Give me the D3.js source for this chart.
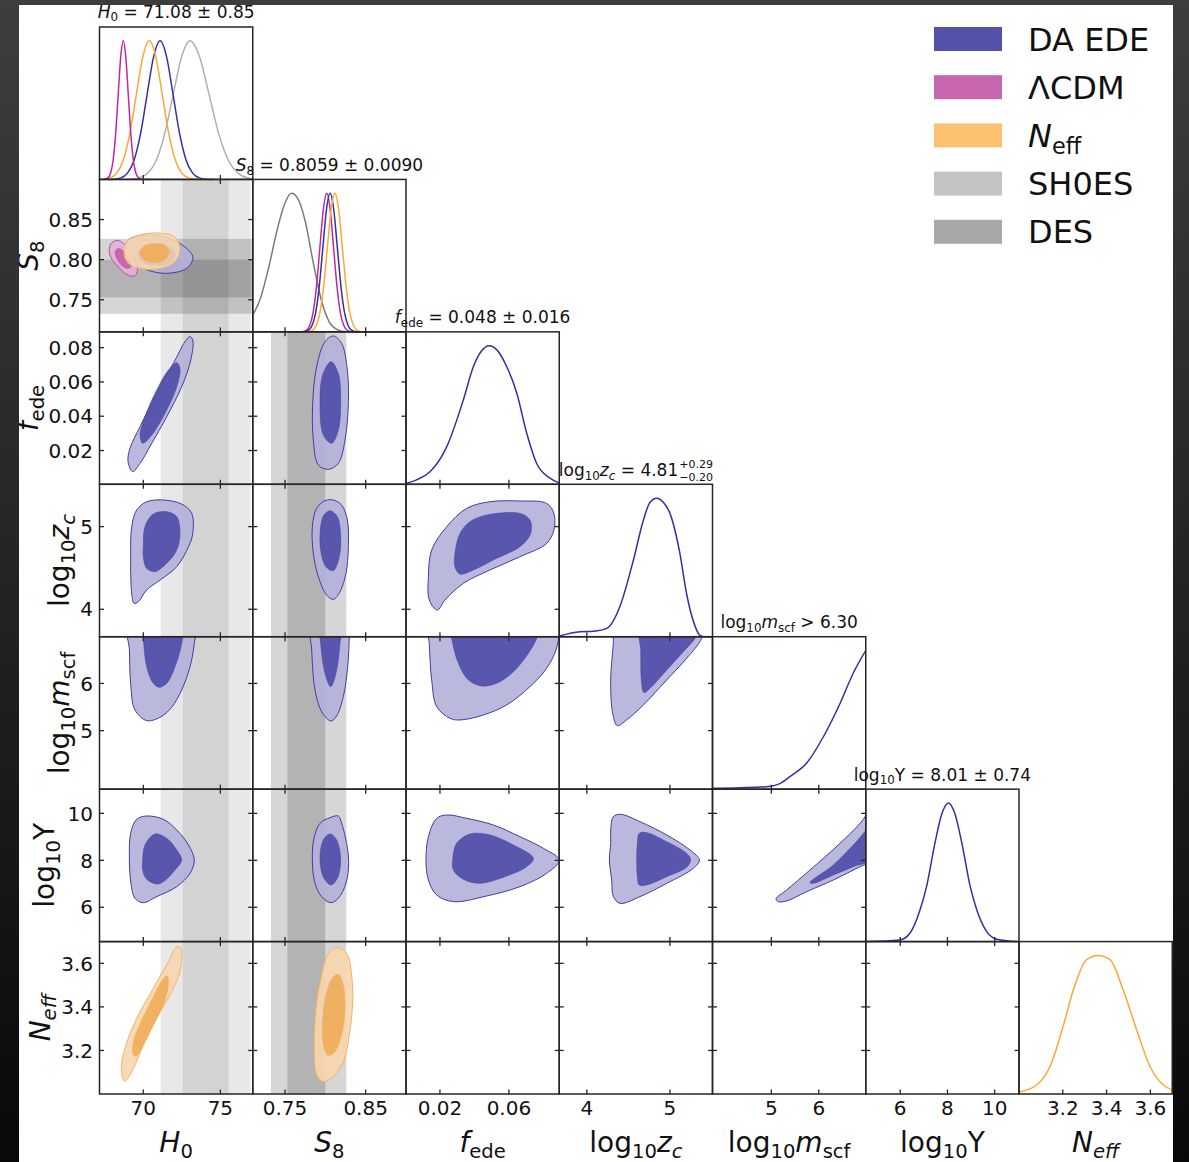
<!DOCTYPE html>
<html><head><meta charset="utf-8">
<script src="https://cdn.jsdelivr.net/npm/d3@7"></script>
<style>body{margin:0;background:#fff;}svg{display:block;}text{font-family:"DejaVu Sans",sans-serif;white-space:pre;}</style>
</head><body><svg id="c" width="1189" height="1162"></svg>
<script>
// ---------- axes ----------
const paramKeys = ["H0","S8","fede","zc","mscf","Y","Neff"];
const axisMin = [67.16, 0.71, 0.0003, 3.668, 3.76, 4.54, 3.0];
const axisMax = [77.1, 0.90, 0.0892, 5.512, 6.99, 11.03, 3.70];
const xTicks = [[70,75],[0.75,0.85],[0.02,0.06],[4,5],[5,6],[6,8,10],[3.2,3.4,3.6]];
const xTickLabels = [["70","75"],["0.75","0.85"],["0.02","0.06"],["4","5"],["5","6"],["6","8","10"],["3.2","3.4","3.6"]];
const yTicks = [[70,75],[0.75,0.80,0.85],[0.02,0.04,0.06,0.08],[4,5],[5,6],[6,8,10],[3.2,3.4,3.6]];
const yTickLabels = [["70","75"],["0.75","0.80","0.85"],["0.02","0.04","0.06","0.08"],["4","5"],["5","6"],["6","8","10"],["3.2","3.4","3.6"]];
const axisLabels = [
 [["H","i"],["0","s"]],
 [["S","i"],["8","s"]],
 [["f","i"],["ede","s"]],
 [["log","n"],["10","s"],["z","i"],["c","si"]],
 [["log","n"],["10","s"],["m","i"],["scf","s"]],
 [["log","n"],["10","s"],["Y","n"]],
 [["N","i"],["eff","si"]]
];
const titles = [
 [["H","i"],["0","s"],[" = 71.08 ± 0.85","n"]],
 [["S","i"],["8","s"],[" = 0.8059 ± 0.0090","n"]],
 [["f","i"],["ede","s"],[" = 0.048 ± 0.016","n"]],
 [["log","n"],["10","s"],["z","i"],["c","si"],[" = 4.81","n"]],
 [["log","n"],["10","s"],["m","i"],["scf","s"],[" > 6.30","n"]],
 [["log","n"],["10","s"],["Y = 8.01 ± 0.74","n"]],
 null
];
const zcScripts = ["+0.29","\u22120.20"];

// ---------- legend ----------
const legendKeys = ["ede","lcdm","neff","sh0es","des"];
const legendLabels = [[["DA EDE","n"]],[["ΛCDM","n"]],[["N","i"],["eff","s"]],[["SH0ES","n"]],[["DES","n"]]];

// ---------- bands ----------
const sh0esOuter = [71.13, 76.96];
const sh0esInner = [72.56, 75.53];
const desOuter = [0.7325, 0.826];
const desInner = [0.753, 0.800];

// ---------- 1D marginals [x, density] ----------
const h0SH0ES = [[68.9,0],[69.18,0.002],[69.73,0.011],[70.28,0.044],[70.83,0.135],[71.38,0.325],[71.93,0.607],[72.48,0.883],[73.03,1],[73.655,0.883],[74.28,0.607],[74.905,0.325],[75.53,0.135],[76.155,0.044],[76.78,0.011],[77.1,0.004]];
const h0EDE = [[67.7,0],[68.115,0.002],[68.54,0.011],[68.965,0.044],[69.39,0.135],[69.815,0.325],[70.24,0.607],[70.665,0.883],[71.09,1],[71.515,0.883],[71.94,0.607],[72.365,0.325],[72.79,0.135],[73.215,0.044],[73.64,0.011],[74.065,0.002],[74.6,0]];
const h0Neff = [[67.2,0],[67.415,0.002],[67.84,0.011],[68.265,0.044],[68.69,0.135],[69.115,0.325],[69.54,0.607],[69.965,0.883],[70.39,1],[70.815,0.883],[71.24,0.607],[71.665,0.325],[72.09,0.135],[72.515,0.044],[72.94,0.011],[73.365,0.002],[74.0,0]];
const h0LCDM = [[67.45,0],[67.71,0.011],[67.875,0.044],[68.04,0.135],[68.205,0.325],[68.37,0.607],[68.535,0.883],[68.70,1],[68.865,0.883],[69.03,0.607],[69.195,0.325],[69.36,0.135],[69.525,0.044],[69.69,0.011],[69.9,0],[70.4,0]];
const s8DES = [[0.71,0.12],[0.72,0.25],[0.73,0.47],[0.74,0.73],[0.75,0.93],[0.758,1.0],[0.765,0.97],[0.775,0.80],[0.785,0.50],[0.795,0.23],[0.805,0.07],[0.815,0.015],[0.825,0]];
const s8LCDM = [[0.76,0],[0.770,0.001],[0.7762,0.011],[0.7805,0.044],[0.7847,0.135],[0.7890,0.325],[0.7932,0.607],[0.7975,0.883],[0.8017,1],[0.8060,0.883],[0.8102,0.607],[0.8145,0.325],[0.8187,0.135],[0.8230,0.044],[0.8272,0.011],[0.835,0.001],[0.855,0]];
const s8EDE = [[0.76,0],[0.772,0.001],[0.7789,0.011],[0.7834,0.044],[0.7879,0.135],[0.7924,0.325],[0.7969,0.607],[0.8014,0.883],[0.8059,1],[0.8104,0.883],[0.8149,0.607],[0.8194,0.325],[0.8239,0.135],[0.8284,0.044],[0.8329,0.011],[0.840,0.001],[0.855,0]];
const s8Neff = [[0.765,0],[0.778,0.001],[0.7839,0.011],[0.7886,0.044],[0.7932,0.135],[0.7979,0.325],[0.8025,0.607],[0.8072,0.883],[0.8118,1],[0.8165,0.883],[0.8211,0.607],[0.8258,0.325],[0.8304,0.135],[0.8351,0.044],[0.8397,0.011],[0.846,0.001],[0.858,0]];
const fedeEDE = [[0.0003,0.005],[0.0070,0.035],[0.0142,0.09],[0.0239,0.27],[0.0336,0.61],[0.0394,0.85],[0.0440,0.96],[0.0486,1.0],[0.0530,0.97],[0.0587,0.85],[0.0645,0.66],[0.0703,0.37],[0.0761,0.15],[0.0838,0.045],[0.0892,0.01]];
const zcEDE = [[3.668,0.005],[3.918,0.036],[4.078,0.04],[4.239,0.06],[4.399,0.22],[4.559,0.55],[4.68,0.84],[4.76,0.97],[4.84,1.0],[4.92,0.97],[5.0,0.89],[5.12,0.6],[5.2,0.31],[5.30,0.08],[5.36,0.01],[5.42,0],[5.512,0]];
const mscfEDE = [[3.76,0.006],[4.34,0.01],[4.90,0.018],[5.18,0.04],[5.39,0.09],[5.75,0.19],[6.10,0.38],[6.45,0.62],[6.73,0.84],[6.99,1.0]];
const yEDE = [[4.54,0],[5.99,0.012],[6.41,0.06],[6.84,0.23],[7.12,0.40],[7.47,0.71],[7.76,0.92],[8.04,1.0],[8.32,0.92],[8.61,0.71],[8.96,0.40],[9.24,0.23],[9.67,0.07],[10.09,0.017],[10.94,0]];
const neffNeff = [[3.0,0.015],[3.081,0.065],[3.142,0.2],[3.202,0.49],[3.248,0.75],[3.309,0.97],[3.362,1.0],[3.416,0.97],[3.476,0.75],[3.538,0.46],[3.598,0.2],[3.659,0.065],[3.70,0.03]];

// ---------- 2D contours [x, y] (outer = 95%, inner = 68%) ----------
const edeH0S8Out = [[69.03,0.8245],[70.65,0.8308],[72.17,0.8225],[73.21,0.8038],[72.82,0.7892],[71.30,0.7830],[69.79,0.7913],[68.88,0.8079]];
const edeH0S8In = [[69.68,0.806],[70.05,0.815],[70.87,0.819],[71.74,0.815],[72.06,0.806],[71.74,0.796],[70.87,0.793],[70.05,0.796]];
const lcdmH0S8Out = [[67.80,0.814],[67.95,0.821],[68.38,0.824],[68.88,0.817],[69.31,0.805],[69.62,0.788],[69.46,0.780],[69.03,0.7805],[68.38,0.791],[67.89,0.803]];
const lcdmH0S8In = [[68.17,0.810],[68.38,0.814],[68.75,0.810],[69.10,0.800],[69.18,0.791],[68.97,0.789],[68.60,0.793],[68.27,0.802]];
const neffH0S8Out = [[68.75,0.808],[68.92,0.8225],[69.79,0.831],[71.09,0.833],[72.06,0.828],[72.38,0.814],[72.06,0.7975],[71.09,0.789],[69.79,0.789],[69.03,0.7955]];
const neffH0S8In = [[69.75,0.809],[70.05,0.817],[70.70,0.820],[71.41,0.818],[71.69,0.809],[71.41,0.800],[70.70,0.796],[70.05,0.800]];
const edeH0FedeOut = [[69.31,0.0077],[69.01,0.0135],[69.14,0.0213],[69.79,0.0339],[70.87,0.0533],[71.95,0.0708],[72.71,0.0835],[73.03,0.0864],[73.21,0.0844],[73.08,0.0728],[72.49,0.0572],[71.52,0.0397],[70.55,0.0242],[69.79,0.0125]];
const edeH0FedeIn = [[69.96,0.0242],[69.79,0.0290],[70.11,0.0397],[70.87,0.0553],[71.63,0.0669],[72.17,0.0712],[72.38,0.0679],[72.17,0.0572],[71.41,0.0417],[70.55,0.0290]];
const edeH0ZcOut = [[69.18,4.676],[69.25,4.999],[69.57,5.201],[70.22,5.301],[71.30,5.322],[72.49,5.273],[73.14,5.160],[73.21,4.918],[72.93,4.757],[72.17,4.515],[71.09,4.354],[70.22,4.233],[69.68,4.092],[69.40,4.072],[69.25,4.193]];
const edeH0ZcIn = [[70.00,4.757],[70.11,4.999],[70.65,5.152],[71.52,5.181],[72.17,5.120],[72.38,4.918],[72.17,4.717],[71.52,4.556],[70.76,4.455],[70.22,4.495],[70.00,4.636]];
const edeH0MscfOut = [[69.03,7.35],[69.10,6.709],[69.18,6.003],[69.46,5.438],[70.22,5.212],[71.09,5.283],[71.84,5.494],[72.49,5.862],[73.03,6.356],[73.31,6.850],[73.36,7.35]];
const edeH0MscfIn = [[69.96,7.35],[70.00,6.99],[70.22,6.356],[70.65,6.003],[71.04,5.918],[71.52,6.003],[72.06,6.356],[72.49,6.85],[72.60,7.35]];
const edeH0YOut = [[69.18,9.149],[69.57,9.745],[70.22,9.887],[71.30,9.745],[72.17,9.291],[72.93,8.652],[73.31,8.014],[73.03,7.446],[72.17,6.879],[70.87,6.453],[70.00,6.197],[69.46,6.382],[69.20,7.020],[69.10,8.014]];
const edeH0YIn = [[69.96,8.014],[70.11,8.652],[70.76,9.121],[71.52,8.936],[72.17,8.440],[72.49,8.014],[72.06,7.588],[71.30,7.091],[70.87,6.992],[70.22,7.191],[69.96,7.588]];
const neffH0NeffOut = [[68.75,3.060],[68.58,3.118],[68.81,3.210],[69.57,3.347],[70.65,3.485],[71.63,3.608],[72.17,3.676],[72.43,3.672],[72.38,3.562],[71.84,3.470],[70.98,3.363],[70.11,3.240],[69.36,3.118],[68.92,3.064]];
const neffH0NeffIn = [[69.36,3.179],[69.31,3.225],[69.79,3.324],[70.55,3.432],[71.30,3.531],[71.56,3.543],[71.63,3.500],[71.30,3.409],[70.65,3.317],[70.00,3.225],[69.57,3.176]];
const edeS8FedeOut = [[0.8099,0.0868],[0.8202,0.0825],[0.8273,0.0669],[0.8285,0.0475],[0.8244,0.0261],[0.8161,0.0125],[0.8037,0.0090],[0.7913,0.0116],[0.7851,0.0261],[0.7843,0.0475],[0.7892,0.0689],[0.7996,0.0835]];
const edeS8FedeIn = [[0.8070,0.0718],[0.8161,0.0650],[0.8190,0.0475],[0.8161,0.0320],[0.8078,0.0242],[0.7975,0.0290],[0.7934,0.0475],[0.7967,0.0640]];
const edeS8ZcOut = [[0.7996,5.314],[0.8099,5.322],[0.8202,5.261],[0.8273,5.080],[0.8285,4.757],[0.8256,4.435],[0.8182,4.213],[0.8099,4.120],[0.8016,4.172],[0.7913,4.394],[0.7851,4.676],[0.7839,4.999],[0.7892,5.221]];
const edeS8ZcIn = [[0.8058,5.193],[0.8149,5.120],[0.8190,4.878],[0.8173,4.636],[0.8099,4.467],[0.8008,4.515],[0.7942,4.717],[0.7942,4.999],[0.7983,5.140]];
const edeS8MscfOut = [[0.7826,7.35],[0.7831,6.709],[0.7872,5.862],[0.7954,5.403],[0.8070,5.205],[0.8140,5.311],[0.8223,5.720],[0.8277,6.356],[0.8297,6.992],[0.8297,7.35]];
const edeS8MscfIn = [[0.7934,7.35],[0.7942,6.85],[0.7996,6.215],[0.8066,5.932],[0.8132,6.215],[0.8182,6.85],[0.8194,7.35]];
const edeS8YOut = [[0.7934,9.575],[0.8058,9.816],[0.8161,9.887],[0.8202,9.575],[0.8264,8.723],[0.8289,7.872],[0.8256,7.020],[0.8161,6.382],[0.8070,6.197],[0.7954,6.453],[0.7872,7.020],[0.7839,8.014],[0.7859,8.936]];
const edeS8YIn = [[0.8058,9.121],[0.8140,8.865],[0.8190,8.014],[0.8149,7.233],[0.8070,6.950],[0.7983,7.233],[0.7934,8.014],[0.7975,8.865]];
const neffS8NeffOut = [[0.8140,3.672],[0.8264,3.646],[0.8326,3.546],[0.8339,3.424],[0.8297,3.271],[0.8223,3.148],[0.8099,3.080],[0.7975,3.057],[0.7892,3.087],[0.7863,3.225],[0.7884,3.393],[0.7954,3.546],[0.8037,3.646]];
const neffS8NeffIn = [[0.8161,3.549],[0.8223,3.500],[0.8244,3.378],[0.8202,3.271],[0.8120,3.194],[0.8037,3.176],[0.7975,3.225],[0.7967,3.347],[0.8016,3.470],[0.8099,3.539]];
const edeFedeZcOut = [[0.0133,4.394],[0.0152,4.717],[0.0239,4.999],[0.0355,5.221],[0.0490,5.301],[0.0664,5.310],[0.0819,5.281],[0.0861,5.160],[0.0861,4.959],[0.0819,4.797],[0.0664,4.636],[0.0490,4.475],[0.0336,4.314],[0.0229,4.112],[0.0185,3.991],[0.0138,4.112]];
const edeFedeZcIn = [[0.0287,4.676],[0.0316,4.918],[0.0374,5.060],[0.0471,5.140],[0.0664,5.160],[0.0722,5.080],[0.0726,4.918],[0.0664,4.757],[0.0529,4.616],[0.0394,4.475],[0.0316,4.426],[0.0287,4.515]];
const edeFedeMscfOut = [[0.0134,7.35],[0.0138,6.850],[0.0152,6.074],[0.0181,5.509],[0.0258,5.261],[0.0316,5.226],[0.0452,5.332],[0.0587,5.544],[0.0722,5.932],[0.0819,6.321],[0.0873,6.709],[0.0892,7.062],[0.0896,7.35]];
const edeFedeMscfIn = [[0.0262,7.35],[0.0274,6.85],[0.0307,6.427],[0.0365,6.074],[0.0442,5.946],[0.0529,6.003],[0.0626,6.250],[0.0713,6.639],[0.0765,6.992],[0.0780,7.35]];
const edeFedeYOut = [[0.0133,9.007],[0.0181,9.788],[0.0239,9.930],[0.0355,9.788],[0.0510,9.504],[0.0664,9.007],[0.0800,8.510],[0.0892,8.014],[0.0819,7.446],[0.0664,6.879],[0.0471,6.481],[0.0278,6.240],[0.0181,6.524],[0.0133,7.162],[0.0119,8.014]];
const edeFedeYIn = [[0.0274,8.014],[0.0297,8.723],[0.0374,9.121],[0.0490,9.078],[0.0626,8.652],[0.0742,8.085],[0.0703,7.730],[0.0587,7.333],[0.0432,7.020],[0.0336,7.191],[0.0278,7.588]];
const edeZcMscfOut = [[4.339,7.35],[4.319,6.85],[4.287,6.074],[4.311,5.367],[4.367,5.106],[4.479,5.226],[4.680,5.544],[4.961,6.074],[5.201,6.533],[5.382,6.956],[5.422,7.35]];
const edeZcMscfIn = [[4.640,7.35],[4.648,6.709],[4.656,6.074],[4.688,5.805],[4.760,5.897],[4.961,6.285],[5.161,6.674],[5.314,6.992],[5.362,7.35]];
const edeZcYOut = [[4.287,9.291],[4.319,9.859],[4.407,9.958],[4.640,9.646],[4.961,9.078],[5.241,8.440],[5.354,8.014],[5.281,7.659],[4.961,7.020],[4.640,6.453],[4.399,6.169],[4.319,6.453],[4.299,7.162],[4.271,8.014],[4.287,8.723]];
const edeZcYIn = [[4.608,8.723],[4.632,9.149],[4.720,9.177],[4.961,8.794],[5.201,8.298],[5.249,8.014],[5.201,7.702],[4.961,7.304],[4.720,6.950],[4.632,6.950],[4.608,7.304],[4.600,8.014]];
const edeMscfYOut = [[5.098,6.354],[5.323,6.737],[5.815,7.588],[6.447,8.723],[6.869,9.575],[7.079,10.142],[7.150,10.284],[7.150,8.014],[6.869,7.730],[6.307,7.162],[5.745,6.666],[5.323,6.27],[5.147,6.240]];
const edeMscfYIn = [[5.815,7.049],[6.307,7.801],[6.728,8.652],[7.150,9.504],[7.150,8.085],[6.728,7.730],[6.307,7.375],[5.885,7.020]];

// ---------- panel tables ----------
const panels2D = [
 {r:1,c:0,sets:[["ede",edeH0S8Out,edeH0S8In],["lcdm",lcdmH0S8Out,lcdmH0S8In],["neff",neffH0S8Out,neffH0S8In]]},
 {r:2,c:0,sets:[["ede",edeH0FedeOut,edeH0FedeIn]]},
 {r:3,c:0,sets:[["ede",edeH0ZcOut,edeH0ZcIn]]},
 {r:4,c:0,sets:[["ede",edeH0MscfOut,edeH0MscfIn]]},
 {r:5,c:0,sets:[["ede",edeH0YOut,edeH0YIn]]},
 {r:6,c:0,sets:[["neff",neffH0NeffOut,neffH0NeffIn]]},
 {r:2,c:1,sets:[["ede",edeS8FedeOut,edeS8FedeIn]]},
 {r:3,c:1,sets:[["ede",edeS8ZcOut,edeS8ZcIn]]},
 {r:4,c:1,sets:[["ede",edeS8MscfOut,edeS8MscfIn]]},
 {r:5,c:1,sets:[["ede",edeS8YOut,edeS8YIn]]},
 {r:6,c:1,sets:[["neff",neffS8NeffOut,neffS8NeffIn]]},
 {r:3,c:2,sets:[["ede",edeFedeZcOut,edeFedeZcIn]]},
 {r:4,c:2,sets:[["ede",edeFedeMscfOut,edeFedeMscfIn]]},
 {r:5,c:2,sets:[["ede",edeFedeYOut,edeFedeYIn]]},
 {r:4,c:3,sets:[["ede",edeZcMscfOut,edeZcMscfIn]]},
 {r:5,c:3,sets:[["ede",edeZcYOut,edeZcYIn]]},
 {r:5,c:4,sets:[["ede",edeMscfYOut,edeMscfYIn]]}
];
const panels1D = [
 [["sh0es",h0SH0ES],["ede",h0EDE],["neff",h0Neff],["lcdm",h0LCDM]],
 [["des",s8DES],["lcdm",s8LCDM],["ede",s8EDE],["neff",s8Neff]],
 [["ede",fedeEDE]],
 [["ede",zcEDE]],
 [["ede",mscfEDE]],
 [["ede",yEDE]],
 [["neff",neffNeff]]
];
const seriesStyle = {
 ede:{line:"#33319f",inner:"#4f4ca7",outer:"#b2b0d9",edge:"#403da1",patch:"#5552a9"},
 lcdm:{line:"#c1289e",inner:"#c35cab",outer:"#e4b0d8",edge:"#bd48a4",patch:"#c566ae"},
 neff:{line:"#ffa634",inner:"#f0ac58",outer:"#f7d6ae",edge:"#f4b260",patch:"#fcc171"},
 sh0es:{line:"#b0b0b0",patch:"#c3c3c3"},
 des:{line:"#7b7b7b",patch:"#a8a8a8"}
};

// ---------- drawing ----------
const W=1189,H=1162, X0=99.5, XS=153.25, Y0=27, YS=152.43, N=7;
const svg=d3.select("#c");
svg.append("rect").attr("width",W).attr("height",H).attr("fill","#fff");
const defs=svg.append("defs");
const xs=axisMin.map((m,j)=>d3.scaleLinear().domain([axisMin[j],axisMax[j]]).range([X0+j*XS,X0+(j+1)*XS]));
const ys=axisMin.map((m,i)=>d3.scaleLinear().domain([axisMin[i],axisMax[i]]).range([Y0+(i+1)*YS,Y0+i*YS]));
const yDens=i=>d3.scaleLinear().domain([0,1.1]).range([Y0+(i+1)*YS,Y0+i*YS]);

function rich(parent, parts, size){
  const t=parent.append("text").attr("font-size",size);
  let shift=0;
  parts.forEach(([s,st])=>{
    const sub=st.includes("s"), it=st.includes("i");
    const target=sub?size*0.22:0;
    t.append("tspan").text(s).attr("dy",target-shift)
     .attr("font-size",sub?size*0.7:size).attr("font-style",it?"italic":"normal");
    shift=target;
  });
  return t;
}

for(let r=0;r<N;r++)for(let c=0;c<=r;c++){
  defs.append("clipPath").attr("id",`cl${r}_${c}`).append("rect")
   .attr("x",X0+c*XS).attr("y",Y0+r*YS).attr("width",XS).attr("height",YS+(r===c?1:0));
}

// bands (beneath contours)
function vband(r,c,range,op){
  const x=xs[c];
  svg.append("rect").attr("clip-path",`url(#cl${r}_${c})`)
   .attr("x",x(range[0])).attr("width",x(range[1])-x(range[0]))
   .attr("y",Y0+r*YS).attr("height",YS).attr("fill","#000").attr("fill-opacity",op);
}
function hband(r,c,range,op){
  const y=ys[r];
  svg.append("rect").attr("clip-path",`url(#cl${r}_${c})`)
   .attr("y",y(range[1])).attr("height",y(range[0])-y(range[1]))
   .attr("x",X0+c*XS).attr("width",XS).attr("fill","#000").attr("fill-opacity",op);
}
for(let r=1;r<N;r++){ vband(r,0,sh0esOuter,0.09); vband(r,0,sh0esInner,0.09); }
hband(1,0,desOuter,0.16); hband(1,0,desInner,0.16);
for(let r=2;r<N;r++){ vband(r,1,desOuter,0.16); vband(r,1,desInner,0.16); }

// 2D contours
panels2D.forEach(p=>{
  const x=xs[p.c], y=ys[p.r];
  const g=svg.append("g").attr("clip-path",`url(#cl${p.r}_${p.c})`);
  const line=d3.line().x(d=>x(d[0])).y(d=>y(d[1])).curve(d3.curveCatmullRomClosed.alpha(0.5));
  p.sets.forEach(([key,out,inn],k)=>{
    const st=seriesStyle[key], op=k===0?0.9:0.88;
    g.append("path").attr("d",line(out)).attr("fill",st.outer).attr("fill-opacity",op).attr("stroke",st.edge).attr("stroke-width",1);
    g.append("path").attr("d",line(inn)).attr("fill",st.inner).attr("fill-opacity",op).attr("stroke",st.edge).attr("stroke-width",0.5);
  });
});

// 1D marginals
panels1D.forEach((curves,i)=>{
  const x=xs[i], y=yDens(i);
  const g=svg.append("g").attr("clip-path",`url(#cl${i}_${i})`);
  const line=d3.line().x(d=>x(d[0])).y(d=>y(d[1])).curve(d3.curveMonotoneX);
  curves.forEach(([key,data])=>{
    g.append("path").attr("d",line(data)).attr("fill","none")
     .attr("stroke",seriesStyle[key].line).attr("stroke-width",1.5);
  });
});

// frames + ticks
const TL=4.5, FR="#262626";
for(let r=0;r<N;r++)for(let c=0;c<=r;c++){
  const left=X0+c*XS, right=left+XS, top=Y0+r*YS, bot=top+YS;
  const g=svg.append("g").attr("stroke",FR).attr("stroke-width",1.3);
  xTicks[c].forEach(v=>{
    const px=xs[c](v);
    g.append("line").attr("x1",px).attr("x2",px).attr("y1",bot).attr("y2",bot-TL);
    if(r!==c) g.append("line").attr("x1",px).attr("x2",px).attr("y1",top).attr("y2",top+TL);
  });
  if(r!==c) yTicks[r].forEach(v=>{
    const py=ys[r](v);
    g.append("line").attr("x1",left).attr("x2",left+TL).attr("y1",py).attr("y2",py);
    g.append("line").attr("x1",right).attr("x2",right-TL).attr("y1",py).attr("y2",py);
  });
  svg.append("rect").attr("x",left).attr("y",top).attr("width",XS).attr("height",YS)
   .attr("fill","none").attr("stroke",FR).attr("stroke-width",1.5);
}

// tick labels
const lab=svg.append("g").attr("fill","#111");
for(let c=0;c<N;c++) xTicks[c].forEach((v,k)=>{
  lab.append("text").attr("x",xs[c](v)).attr("y",1115).attr("text-anchor","middle")
   .attr("font-size",20).text(xTickLabels[c][k]);
});
for(let r=1;r<N;r++) yTicks[r].forEach((v,k)=>{
  lab.append("text").attr("x",93).attr("y",ys[r](v)+7.2).attr("text-anchor","end")
   .attr("font-size",20).text(yTickLabels[r][k]);
});

// axis labels
for(let c=0;c<N;c++){
  const t=rich(lab.append("g").attr("transform",`translate(${X0+(c+0.5)*XS},1152)`),axisLabels[c],28);
  t.attr("text-anchor","middle");
}
const yLabelX=[0,38,38,69,69,54,50];
for(let r=1;r<N;r++){
  const t=rich(lab.append("g").attr("transform",`translate(${yLabelX[r]},${Y0+(r+0.5)*YS}) rotate(-90)`),axisLabels[r],28);
  t.attr("text-anchor","middle");
}

// titles
titles.forEach((parts,i)=>{
  if(!parts) return;
  const cx=X0+(i+0.5)*XS, by=Y0+i*YS-8.5+(i===0?-1:0);
  const g=lab.append("g");
  const t=rich(g,parts,17);
  if(i===3){
    const w=t.node().getComputedTextLength();
    const s1=g.append("text").attr("x",w+1).attr("y",-7.5).attr("font-size",11).text(zcScripts[0]);
    const s2=g.append("text").attr("x",w+1).attr("y",5).attr("font-size",11).text(zcScripts[1]);
    const sw=Math.max(s1.node().getComputedTextLength(),s2.node().getComputedTextLength());
    g.attr("transform",`translate(${cx-(w+1+sw)/2},${by})`);
  } else {
    t.attr("text-anchor","middle");
    g.attr("transform",`translate(${cx},${by})`);
  }
});

// legend
legendKeys.forEach((k,i)=>{
  const cy=39+i*48.2;
  svg.append("rect").attr("x",934).attr("y",cy-12).attr("width",68).attr("height",24).attr("fill",seriesStyle[k].patch);
  const g=lab.append("g").attr("transform",`translate(1028,${cy+11.5})`);
  rich(g,legendLabels[i],32);
});

// dark frame of the screenshot
const grad=defs.append("linearGradient").attr("id","dk").attr("x1",0).attr("x2",0).attr("y1",0).attr("y2",1);
grad.append("stop").attr("offset","0").attr("stop-color","#3e3e3e");
grad.append("stop").attr("offset","1").attr("stop-color","#090909");
svg.append("rect").attr("x",0).attr("y",0).attr("width",19).attr("height",H).attr("fill","url(#dk)");
svg.append("rect").attr("x",1173).attr("y",0).attr("width",16).attr("height",H).attr("fill","url(#dk)");
svg.append("rect").attr("x",0).attr("y",0).attr("width",W).attr("height",5).attr("fill","#3d3d3d");
</script></body></html>
